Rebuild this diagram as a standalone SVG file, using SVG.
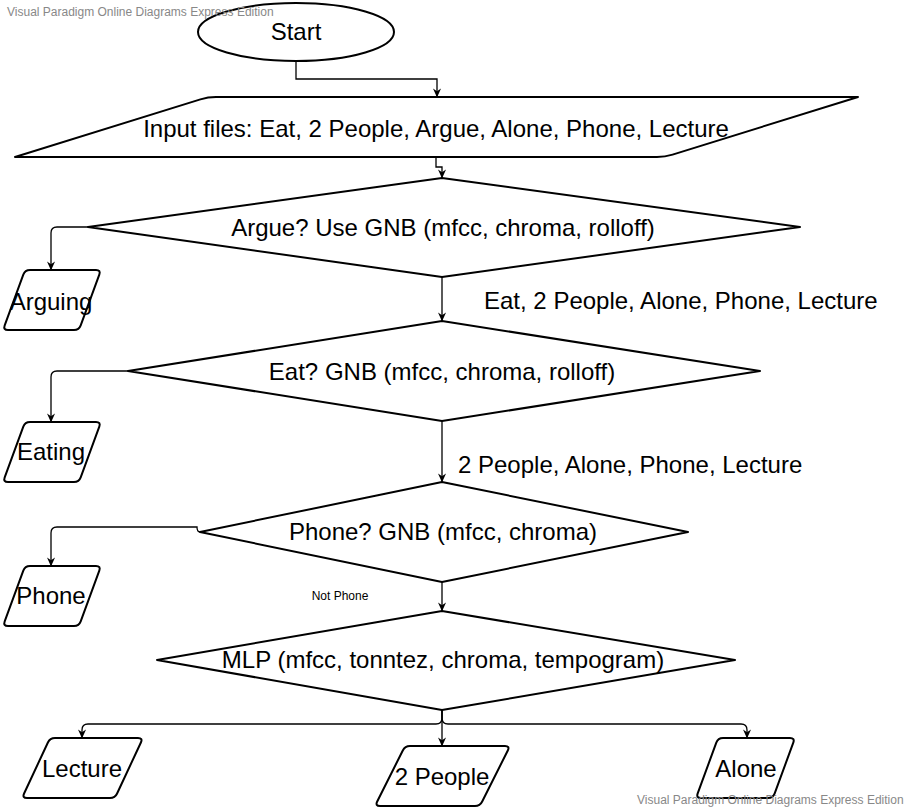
<svg xmlns="http://www.w3.org/2000/svg" width="908" height="809" viewBox="0 0 908 809">
<style>
.shape{fill:#fff;stroke:#000;stroke-width:2;stroke-linejoin:round}
.conn{fill:none;stroke:#000;stroke-width:1.3}
.t{font-family:"Liberation Sans",Arial,sans-serif;font-size:24px;fill:#000;text-anchor:middle}
.lbl{font-family:"Liberation Sans",Arial,sans-serif;font-size:24px;fill:#000}
.small{font-family:"Liberation Sans",Arial,sans-serif;font-size:12px;fill:#000;text-anchor:middle}
.wm{font-family:"Liberation Sans",Arial,sans-serif;font-size:12px;fill:#888}
</style>
<defs>
<marker id="arr" viewBox="0 0 10 10" refX="9.5" refY="5" markerWidth="9" markerHeight="9" orient="auto" markerUnits="userSpaceOnUse">
<path d="M0,0.5 L10,5 L0,9.5 L3,5 Z" fill="#000"/>
</marker>
</defs>
<rect width="908" height="809" fill="#fff"/>

<g id="connectors">
<path class="conn" d="M296,61 L296,79 L437,79 L437,97" marker-end="url(#arr)"/>
<path class="conn" d="M436,157 L436,167 L442,167 L442,178" marker-end="url(#arr)"/>
<path class="conn" d="M88,227 L57,227 Q51,227 51,233 L51,270" marker-end="url(#arr)"/>
<path class="conn" d="M442,277 L442,321" marker-end="url(#arr)"/>
<path class="conn" d="M128,371 L57,371 Q51,371 51,377 L51,422" marker-end="url(#arr)"/>
<path class="conn" d="M442,421 L442,482" marker-end="url(#arr)"/>
<path class="conn" d="M200,532 Q197,532 197,527 L57,527 Q51,527 51,533 L51,566" marker-end="url(#arr)"/>
<path class="conn" d="M442,582 L442,611" marker-end="url(#arr)"/>
<path class="conn" d="M442,710 L442,718 Q442,724 436,724 L88,724 Q82,724 82,730 L82,738" marker-end="url(#arr)"/>
<path class="conn" d="M442,710 L442,746" marker-end="url(#arr)"/>
<path class="conn" d="M442,710 L442,718 Q442,724 448,724 L741,724 Q747,724 747,730 L747,738" marker-end="url(#arr)"/>
<text class="lbl" x="484" y="309">Eat, 2 People, Alone, Phone, Lecture</text>
<text class="lbl" x="458" y="473">2 People, Alone, Phone, Lecture</text>
<text class="small" x="340" y="600">Not Phone</text>
</g>

<g id="start">
<ellipse class="shape" cx="296" cy="32" rx="98" ry="29"/>
<text class="t" x="296" y="40">Start</text>
</g>

<g id="input">
<path class="shape" d="M216,97 L858,97 L672.6,154.6 Q665,157 657,157 L15,157 L200.4,99.4 Q208,97 216,97 Z"/>
<text class="t" x="436" y="137">Input files: Eat, 2 People, Argue, Alone, Phone, Lecture</text>
</g>

<g id="argue">
<polygon class="shape" points="442,178 800,227 442,277 88,227"/>
<text class="t" x="443" y="236">Argue? Use GNB (mfcc, chroma, rolloff)</text>
</g>

<g id="arguing">
<path class="shape" d="M30,270 L96,270 Q101,270 99.3,274.7 L80.7,325.3 Q79,330 74,330 L8,330 Q3,330 4.7,325.3 L23.3,274.7 Q25,270 30,270 Z"/>
<text class="t" x="51" y="310">Arguing</text>
</g>

<g id="eat">
<polygon class="shape" points="442,321 760,371 442,421 128,371"/>
<text class="t" x="442" y="380">Eat? GNB (mfcc, chroma, rolloff)</text>
</g>

<g id="eating">
<path class="shape" transform="translate(0,152)" d="M30,270 L96,270 Q101,270 99.3,274.7 L80.7,325.3 Q79,330 74,330 L8,330 Q3,330 4.7,325.3 L23.3,274.7 Q25,270 30,270 Z"/>
<text class="t" x="51" y="460">Eating</text>
</g>

<g id="phone-q">
<polygon class="shape" points="442,482 688,532 442,582 200,532"/>
<text class="t" x="443" y="540">Phone? GNB (mfcc, chroma)</text>
</g>

<g id="phone">
<path class="shape" transform="translate(0,296)" d="M30,270 L96,270 Q101,270 99.3,274.7 L80.7,325.3 Q79,330 74,330 L8,330 Q3,330 4.7,325.3 L23.3,274.7 Q25,270 30,270 Z"/>
<text class="t" x="51" y="604">Phone</text>
</g>

<g id="mlp">
<polygon class="shape" points="442,611 735,660 442,710 157,660"/>
<text class="t" x="443" y="668">MLP (mfcc, tonntez, chroma, tempogram)</text>
</g>

<g id="lecture">
<path class="shape" d="M55,738 L138,738 Q143,738 140.9,742.5 L117.1,793.5 Q115,798 110,798 L27,798 Q22,798 24.1,793.5 L47.9,742.5 Q50,738 55,738 Z"/>
<text class="t" x="82" y="777">Lecture</text>
</g>

<g id="two-people">
<path class="shape" d="M410,746 L505,746 Q510,746 507.8,750.5 L482.2,801.5 Q480,806 475,806 L380,806 Q375,806 377.2,801.5 L402.8,750.5 Q405,746 410,746 Z"/>
<text class="t" x="442" y="785">2 People</text>
</g>

<g id="alone">
<path class="shape" d="M723,738 L790,738 Q795,738 793.3,742.7 L774.7,793.3 Q773,798 768,798 L701,798 Q696,798 697.7,793.3 L716.3,742.7 Q718,738 723,738 Z"/>
<text class="t" x="746" y="777">Alone</text>
</g>

<g id="watermarks">
<text class="wm" x="7" y="16">Visual Paradigm Online Diagrams Express Edition</text>
<text class="wm" x="637" y="804">Visual Paradigm Online Diagrams Express Edition</text>
</g>
</svg>
